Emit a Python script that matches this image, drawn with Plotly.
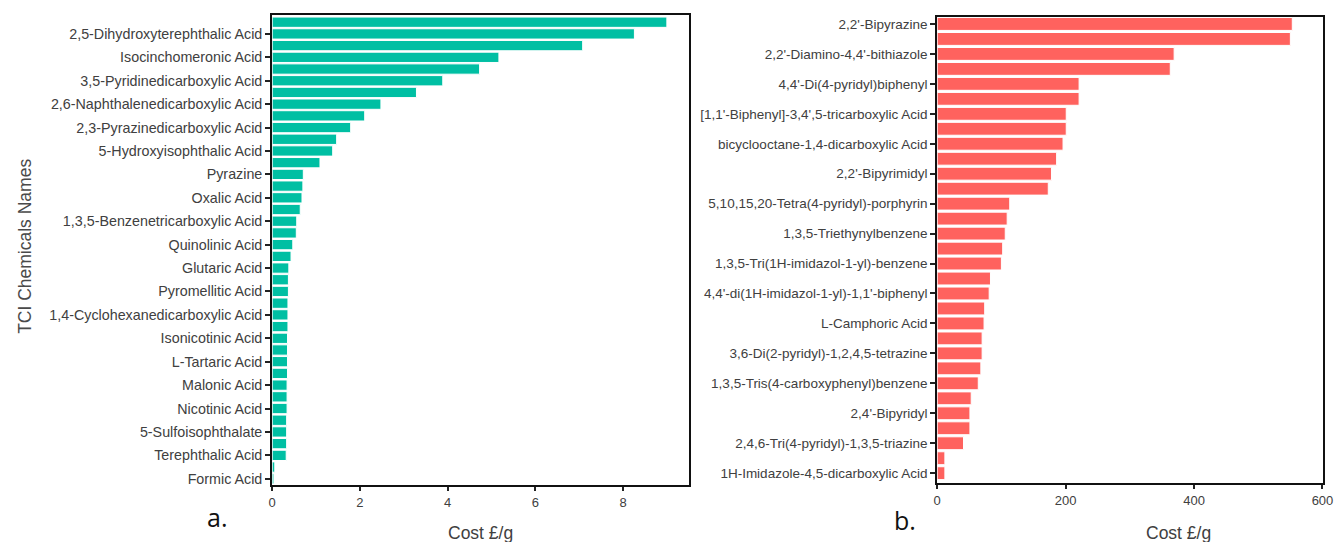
import plotly.graph_objects as go

# ---------- data ----------
# Panel a: TCI chemicals (top to bottom); "" = bar without a tick label
tci_names = [
    "", "2,5-Dihydroxyterephthalic Acid", "", "Isocinchomeronic Acid", "",
    "3,5-Pyridinedicarboxylic Acid", "", "2,6-Naphthalenedicarboxylic Acid", "",
    "2,3-Pyrazinedicarboxylic Acid", "", "5-Hydroxyisophthalic Acid", "",
    "Pyrazine", "", "Oxalic Acid", "", "1,3,5-Benzenetricarboxylic Acid", "",
    "Quinolinic Acid", "", "Glutaric Acid", "", "Pyromellitic Acid", "",
    "1,4-Cyclohexanedicarboxylic Acid", "", "Isonicotinic Acid", "",
    "L-Tartaric Acid", "", "Malonic Acid", "", "Nicotinic Acid", "",
    "5-Sulfoisophthalate", "", "Terephthalic Acid", "", "Formic Acid",
]
tci_cost = [
    9.00, 8.26, 7.08, 5.17, 4.73, 3.89, 3.29, 2.48, 2.11, 1.79,
    1.47, 1.38, 1.09, 0.71, 0.70, 0.68, 0.64, 0.56, 0.55, 0.47,
    0.43, 0.38, 0.37, 0.37, 0.36, 0.36, 0.36, 0.35, 0.35, 0.35,
    0.35, 0.34, 0.34, 0.34, 0.33, 0.33, 0.33, 0.32, 0.06, 0.04,
]

# Panel b: other chemicals (top to bottom)
b_names = [
    "2,2'-Bipyrazine", "", "2,2'-Diamino-4,4'-bithiazole", "",
    "4,4'-Di(4-pyridyl)biphenyl", "", "[1,1'-Biphenyl]-3,4',5-tricarboxylic Acid", "",
    "bicyclooctane-1,4-dicarboxylic Acid", "", "2,2'-Bipyrimidyl", "",
    "5,10,15,20-Tetra(4-pyridyl)-porphyrin", "", "1,3,5-Triethynylbenzene", "",
    "1,3,5-Tri(1H-imidazol-1-yl)-benzene", "", "4,4'-di(1H-imidazol-1-yl)-1,1'-biphenyl", "",
    "L-Camphoric Acid", "", "3,6-Di(2-pyridyl)-1,2,4,5-tetrazine", "",
    "1,3,5-Tris(4-carboxyphenyl)benzene", "", "2,4'-Bipyridyl", "",
    "2,4,6-Tri(4-pyridyl)-1,3,5-triazine", "", "1H-Imidazole-4,5-dicarboxylic Acid",
]
b_cost = [
    553, 550, 369, 363, 221, 221, 201, 201, 196, 186,
    178, 173, 113, 109, 106, 102, 100, 83, 81, 74,
    73, 70, 70, 68, 64, 53, 51, 51, 41, 12, 12,
]

a_ticks = [0, 2, 4, 6, 8]
b_ticks = [0, 200, 400, 600]

# ---------- styling ----------
TEAL = "#00BFA3"
SALMON = "#FF625E"
TXT = "#404040"
FONT = "Liberation Sans, Arial, sans-serif"

W, H = 1344, 542

def px_x(p):
    return p / W

def px_y(p):
    return 1 - p / H

fig = go.Figure()

fig.add_trace(go.Bar(
    x=tci_cost, y=list(range(len(tci_cost))), orientation="h",
    marker=dict(color=TEAL, line=dict(color="white", width=1)),
    width=0.88, xaxis="x", yaxis="y", showlegend=False,
))
fig.add_trace(go.Bar(
    x=b_cost, y=list(range(len(b_cost))), orientation="h",
    marker=dict(color=SALMON, line=dict(color="white", width=1)),
    width=0.86, xaxis="x2", yaxis="y2", showlegend=False,
))

a_tv = [i for i, n in enumerate(tci_names) if n]
a_tt = [n for n in tci_names if n]
b_tv = [i for i, n in enumerate(b_names) if n]
b_tt = [n for n in b_names if n]

line_common = dict(
    showline=True, linecolor="#111111", linewidth=2, mirror=True,
    showgrid=False, zeroline=False, ticks="outside",
    tickcolor="#222222", tickwidth=1.5,
)

n_a = len(tci_cost)
n_b = len(b_cost)

fig.update_layout(
    width=W, height=H,
    margin=dict(l=0, r=0, t=0, b=0),
    paper_bgcolor="white", plot_bgcolor="white",
    xaxis=dict(domain=[px_x(271), px_x(692)], anchor="y", range=[0, 9.5],
               tickvals=a_ticks, ticklen=4,
               tickfont=dict(family=FONT, size=13, color=TXT), **line_common),
    yaxis=dict(domain=[px_y(487), px_y(15)], anchor="x",
               range=[n_a - 1 + 0.55, -0.62], ticklen=5,
               tickmode="array", tickvals=a_tv, ticktext=a_tt,
               tickfont=dict(family=FONT, size=14.3, color=TXT), **line_common),
    xaxis2=dict(domain=[px_x(943), px_x(1333)], anchor="y2", range=[0, 601],
                tickvals=b_ticks, ticklen=4,
                tickfont=dict(family=FONT, size=13, color=TXT), **line_common),
    yaxis2=dict(domain=[px_y(485), px_y(17)], anchor="x2",
                range=[n_b - 1 + 0.67, -0.47], ticklen=5,
                tickmode="array", tickvals=b_tv, ticktext=b_tt,
                tickfont=dict(family=FONT, size=13.5, color=TXT), **line_common),
    annotations=[
        dict(text="TCI Chemicals Names", x=px_x(21), y=px_y(247), xref="paper", yref="paper",
             textangle=-90, showarrow=False, xanchor="center", yanchor="middle",
             font=dict(family=FONT, size=17.5, color="#4a4a4a")),
        dict(text="Cost £/g", x=px_x(482), y=px_y(535), xref="paper", yref="paper",
             showarrow=False, xanchor="center", yanchor="middle",
             font=dict(family=FONT, size=17.5, color=TXT)),
        dict(text="Cost £/g", x=px_x(1187), y=px_y(535), xref="paper", yref="paper",
             showarrow=False, xanchor="center", yanchor="middle",
             font=dict(family=FONT, size=17.5, color=TXT)),
        dict(text="a.", x=px_x(215), y=px_y(519), xref="paper", yref="paper",
             showarrow=False, xanchor="center", yanchor="middle",
             font=dict(family="Open Sans, sans-serif", size=25, color="#111111")),
        dict(text="b.", x=px_x(910), y=px_y(522), xref="paper", yref="paper",
             showarrow=False, xanchor="center", yanchor="middle",
             font=dict(family="Open Sans, sans-serif", size=25, color="#111111")),
    ],
)

fig.write_html("out.html")
